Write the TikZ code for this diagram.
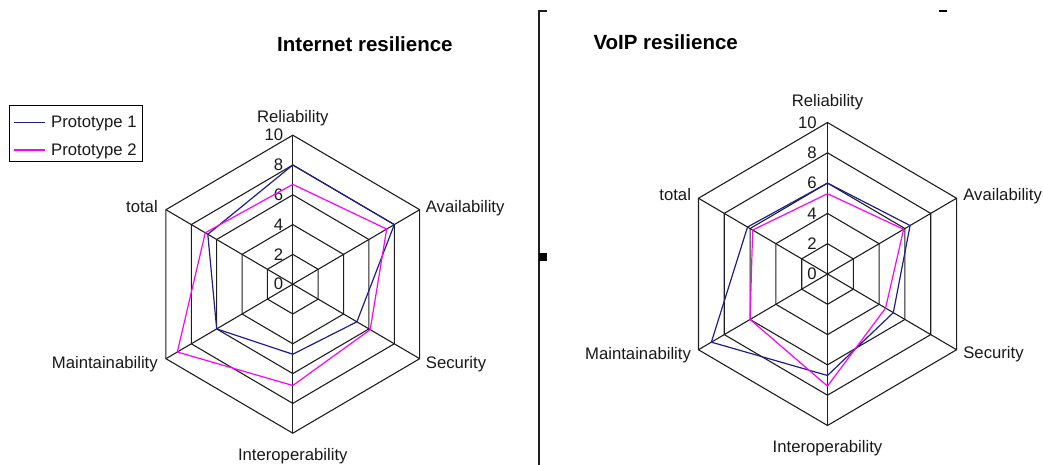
\documentclass[tikz,border=0pt]{standalone}
\usepackage{fontspec}
\setmainfont{Liberation Sans}
\usetikzlibrary{positioning}

\definecolor{protoone}{RGB}{30,30,140}
\definecolor{prototwo}{RGB}{255,0,255}
\definecolor{webgray}{RGB}{30,30,30}

\tikzset{
  radarline/.style={webgray, line width=1.1pt},
  protoAline/.style={protoone, line width=1.2pt, line join=round},
  protoBline/.style={prototwo, line width=1.2pt, line join=round},
  axislabel/.style={font=\fontsize{16.7}{18}\selectfont, inner sep=0pt, text=black!90},
  ticklabel/.style={font=\fontsize{16.7}{18}\selectfont, inner sep=0pt, anchor=east, text=black!90},
  charttitle/.style={font=\bfseries\fontsize{20.5}{22}\selectfont, inner sep=0pt, anchor=base west},
}

\begin{document}
\begin{tikzpicture}[x=1pt,y=1pt]
\useasboundingbox (0,0) rectangle (1043,465);

% frame bits
\draw[webgray, line width=2pt] (538.5,0) -- (538.5,454) -- (547,454);
\fill (539,204) rectangle (547,212);
\draw[line width=1.2pt] (939,454) -- (947,454);

% titles
\node[charttitle] (Ltitle) at (277,413) {Internet resilience};
\node[charttitle] (Rtitle) at (593.3,415) {VoIP resilience};

% legend
\draw[line width=1pt] (9,303.3) rectangle (142.7,359.3);
\node[axislabel, anchor=base west] (leg1) at (51,337) {Prototype 1};
\node[axislabel, anchor=base west] (leg2) at (51,309.5) {Prototype 2};
\draw[protoAline, line width=1.4pt] ([xshift=-6pt,yshift=1.5pt]leg1.west) -- ++(-31,0);
\draw[protoBline, line width=1.4pt] ([xshift=-6pt,yshift=1.5pt]leg2.west) -- ++(-31,0);

% Internet resilience
\begin{scope}[shift={(292.8,180.8)}, x=14.65pt, y=14.9pt]
\foreach \r in {2,4,...,10}
  \draw[radarline] (90:\r) -- (30:\r) -- (-30:\r) -- (-90:\r) -- (-150:\r) -- (150:\r) -- cycle;
\foreach \a in {90,30,-30,-90,-150,150}
  \draw[radarline] (0,0) -- (\a:10);
\foreach \r in {0,2,...,10}
  \node[ticklabel] (Ltick\r) at (-0.65,\r) {\r};

\coordinate (Lrel) at (90:10);
\coordinate (Lava) at (30:10);
\coordinate (Lsec) at (-30:10);
\coordinate (Lint) at (-90:10);
\coordinate (Lmnt) at (-150:10);
\coordinate (Ltot) at (150:10);
\node[axislabel, anchor=base] (Lrellab) at ([yshift=12.5pt]Lrel) {Reliability};
\node[axislabel, anchor=base west] (Lavalab) at ([xshift=6pt,yshift=-3pt]Lava) {Availability};
\node[axislabel, anchor=base west] (Lseclab) at ([xshift=6pt,yshift=-9.5pt]Lsec) {Security};
\node[axislabel, anchor=base] (Lintlab) at ([yshift=-27.5pt]Lint) {Interoperability};
\node[axislabel, anchor=base east] (Lmntlab) at ([xshift=-8pt,yshift=-9.5pt]Lmnt) {Maintainability};
\node[axislabel, anchor=base east] (Ltotlab) at ([xshift=-8pt,yshift=-3pt]Ltot) {total};

\draw[protoAline] (90:8) -- (30:8) -- (-30:5.05) -- (-90:4.7) -- (-150:6) -- (150:6.7) -- cycle;
\draw[protoBline] (90:6.7) -- (30:7.4) -- (-30:6.1) -- (-90:6.8) -- (-150:9.1) -- (150:6.9) -- cycle;
\end{scope}

% VoIP resilience
\begin{scope}[shift={(827.5,191)}, x=14.9pt, y=15.15pt]
\foreach \r in {2,4,...,10}
  \draw[radarline] (90:\r) -- (30:\r) -- (-30:\r) -- (-90:\r) -- (-150:\r) -- (150:\r) -- cycle;
\foreach \a in {90,30,-30,-90,-150,150}
  \draw[radarline] (0,0) -- (\a:10);
\foreach \r in {0,2,...,10}
  \node[ticklabel] (Rtick\r) at (-0.72,\r) {\r};

\coordinate (Rrel) at (90:10);
\coordinate (Rava) at (30:10);
\coordinate (Rsec) at (-30:10);
\coordinate (Rint) at (-90:10);
\coordinate (Rmnt) at (-150:10);
\coordinate (Rtot) at (150:10);
\node[axislabel, anchor=base] (Rrellab) at ([yshift=15.5pt]Rrel) {Reliability};
\node[axislabel, anchor=base west] (Ravalab) at ([xshift=6.6pt,yshift=-2.7pt]Rava) {Availability};
\node[axislabel, anchor=base west] (Rseclab) at ([xshift=6.6pt,yshift=-8.7pt]Rsec) {Security};
\node[axislabel, anchor=base] (Rintlab) at ([yshift=-27.5pt]Rint) {Interoperability};
\node[axislabel, anchor=base east] (Rmntlab) at ([xshift=-7.3pt,yshift=-9.7pt]Rmnt) {Maintainability};
\node[axislabel, anchor=base east] (Rtotlab) at ([xshift=-7.3pt,yshift=-2.7pt]Rtot) {total};

\draw[protoAline] (90:6) -- (30:6.4) -- (-30:5.1) -- (-90:6.7) -- (-150:9) -- (150:6.2) -- cycle;
\draw[protoBline] (90:5.3) -- (30:5.9) -- (-30:4.5) -- (-90:7.4) -- (-150:6) -- (150:5.8) -- cycle;
\end{scope}

\end{tikzpicture}
\end{document}
